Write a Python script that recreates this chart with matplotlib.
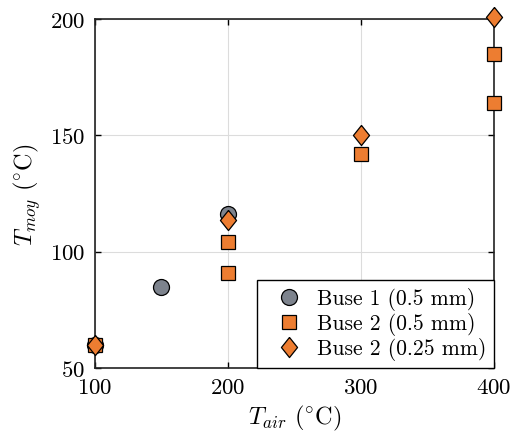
import matplotlib.pyplot as plt

plt.rcParams['font.family'] = 'serif'
plt.rcParams['font.serif'] = ['cmr10']
plt.rcParams['mathtext.fontset'] = 'cm'
plt.rcParams['axes.formatter.use_mathtext'] = True

# data
t_air_b1 = [100, 150, 200]
t_moy_b1 = [60, 85, 116]

t_air_b2 = [100, 200, 200, 300, 400, 400]
t_moy_b2 = [60, 104, 91, 142, 185, 164]

t_air_b2s = [100, 200, 300, 400]
t_moy_b2s = [60, 113.5, 150, 201]

labels = ['Buse 1 (0.5 mm)', 'Buse 2 (0.5 mm)', 'Buse 2 (0.25 mm)']
xticks = [100, 200, 300, 400]
yticks = [50, 100, 150, 200]

gray = '#7d838d'
orange = '#ed7d31'
diamond = [(0, 1), (0.8, 0), (0, -1), (-0.8, 0), (0, 1)]  # matlab style, a bit tall

fig = plt.figure(figsize=(5.16, 4.39), dpi=100)
ax = fig.add_axes([0.184, 0.1595, 0.773, 0.795])

ax.plot(t_air_b1, t_moy_b1, 'o', ms=11.5, mfc=gray, mec='black', mew=0.9,
        label=labels[0], clip_on=False, zorder=3)
ax.plot(t_air_b2, t_moy_b2, 's', ms=9.5, mfc=orange, mec='black', mew=0.9,
        label=labels[1], clip_on=False, zorder=4)
ax.plot(t_air_b2s, t_moy_b2s, ls='none', marker=diamond, ms=14.5, mfc=orange,
        mec='black', mew=0.9, label=labels[2], clip_on=False, zorder=5)

ax.set_xlim(100, 400)
ax.set_ylim(50, 200)
ax.set_xticks(xticks)
ax.set_yticks(yticks)
ax.grid(True, color='#dcdcdc', lw=0.8)
ax.set_axisbelow(True)
ax.tick_params(direction='in', top=True, right=True, length=4, labelsize=16.5,
               width=1)
ax.tick_params(axis='x', pad=7)
ax.tick_params(axis='y', pad=7)
for s in ax.spines.values():
    s.set_linewidth(1.2)
    s.set_color('#222222')

ax.set_xlabel(r'$T_{air}$ $(^{\circ}\mathrm{C})$', fontsize=17.5, labelpad=4)
ax.set_ylabel(r'$T_{moy}$ $(^{\circ}\mathrm{C})$', fontsize=17.5, labelpad=5)

leg = ax.legend(loc='lower right', fontsize=15.5, fancybox=False, framealpha=1,
                edgecolor='black', borderaxespad=0, handletextpad=0.15,
                borderpad=0.35, labelspacing=0.1, handlelength=2.3)
leg.get_frame().set_linewidth(1.0)

fig.savefig('out.png', dpi=100)
